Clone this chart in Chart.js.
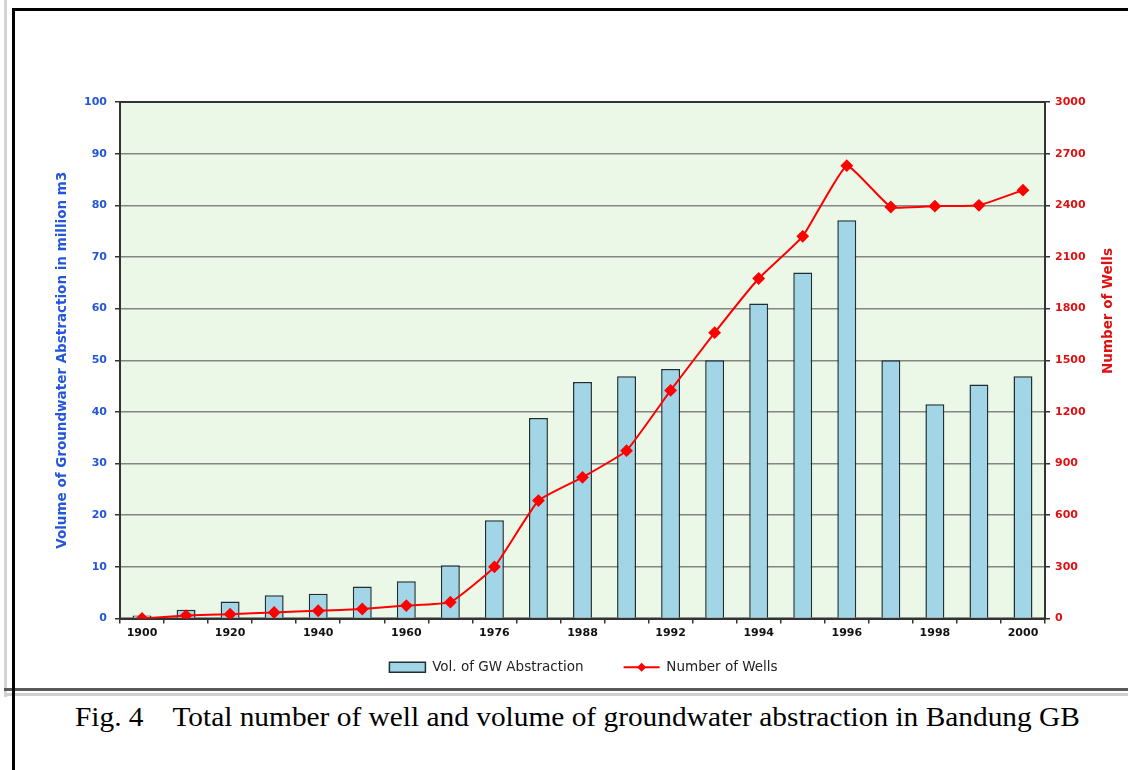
<!DOCTYPE html>
<html>
<head>
<meta charset="utf-8">
<script src="https://cdn.jsdelivr.net/npm/chart.js@4.4.1/dist/chart.umd.min.js"></script>
<style>
  html, body { margin: 0; padding: 0; background: #fff; }
  #page { position: relative; width: 1128px; height: 770px; overflow: hidden; }
  .line { position: absolute; }
  #chartBox { position: absolute; left: 15px; top: 12px; width: 1137px; height: 676px; }
  #caption {
    position: absolute; left: 75px; top: 701px; white-space: pre;
    font-family: "Liberation Serif", "Times New Roman", serif; font-size: 28px;
    color: #000; transform-origin: left top;
  }
</style>
</head>
<body>
<div id="page">
  <!-- outer gray frame -->
  <div class="line" style="left:4px;top:0;width:3px;height:697px;background:#d4d4d4"></div>
  <div class="line" style="left:4px;top:688px;width:1124px;height:3px;background:#5a5a5a"></div>
  <div class="line" style="left:4px;top:693px;width:1124px;height:3px;background:#d0d0d0"></div>
  <!-- black frame -->
  <div class="line" style="left:12px;top:8px;width:1116px;height:3px;background:#000"></div>
  <div class="line" style="left:12px;top:8px;width:3px;height:762px;background:#000"></div>

  <div id="chartBox"><canvas id="gwChart" width="1137" height="676"></canvas></div>
  <div id="caption">Fig. 4    Total number of well and volume of groundwater abstraction in Bandung GB</div>
</div>

<script>
// categories (only every other one is labelled on the axis)
const years = ['1900', '1910', '1920', '1930', '1940', '1950', '1960', '1970', '1976', '1980', '1988',
  '1990', '1992', '1993', '1994', '1995', '1996', '1997', '1998', '1999', '2000'];

// volume of groundwater abstraction, million m3
const volume = [0.6, 1.7, 3.3, 4.5, 4.8, 6.2, 7.2, 10.3, 19, 38.8, 45.8,
  46.9, 48.3, 50, 61, 67, 77.1, 50, 41.5, 45.3, 46.9];

// number of wells
const wells = [0, 17, 25, 35, 45, 55, 75, 95, 300, 685, 820,
  975, 1325, 1660, 1975, 2220, 2630, 2390, 2395, 2400, 2488];

const volTicks = [0, 10, 20, 30, 40, 50, 60, 70, 80, 90, 100];
const wellTicks = [0, 300, 600, 900, 1200, 1500, 1800, 2100, 2400, 2700, 3000];

const tickFont = { family: 'DejaVu Sans', size: 11, weight: 'bold' };

// green plot background + frame
const plotFrame = {
  id: 'plotFrame',
  beforeDraw(chart) {
    const a = chart.chartArea, ctx = chart.ctx;
    ctx.save();
    ctx.fillStyle = '#ebf7e7';
    ctx.fillRect(a.left, a.top, a.right - a.left, a.bottom - a.top);
    ctx.restore();
  },
  beforeDatasetsDraw(chart) {
    const a = chart.chartArea, ctx = chart.ctx;
    ctx.save();
    ctx.strokeStyle = '#333';
    ctx.lineWidth = 2;
    ctx.strokeRect(a.left, a.top, a.right - a.left, a.bottom - a.top);
    ctx.restore();
  },
  afterDraw(chart) {
    const ctx = chart.ctx;
    // right axis title, reading bottom to top
    ctx.save();
    ctx.translate(1093, 299);
    ctx.rotate(-Math.PI / 2);
    ctx.fillStyle = '#e01010';
    ctx.font = 'bold 13.5px "DejaVu Sans"';
    ctx.textAlign = 'center';
    ctx.textBaseline = 'middle';
    ctx.fillText('Number of Wells', 0, 0);
    ctx.restore();
    // diamond on the line legend item
    const hb = chart.legend.legendHitBoxes[1];
    if (hb) {
      const cx = hb.left + 18, cy = hb.top + hb.height / 2, r = 4.5;
      ctx.save();
      ctx.fillStyle = '#ff0000';
      ctx.beginPath();
      ctx.moveTo(cx, cy - r); ctx.lineTo(cx + r, cy); ctx.lineTo(cx, cy + r); ctx.lineTo(cx - r, cy);
      ctx.closePath();
      ctx.fill();
      ctx.restore();
    }
  }
};

const ctx = document.getElementById('gwChart').getContext('2d');
new Chart(ctx, {
  data: {
    labels: years,
    datasets: [
      {
        type: 'line',
        label: 'Number of Wells',
        data: wells,
        yAxisID: 'y1',
        borderColor: '#ff0000',
        backgroundColor: '#ff0000',
        borderWidth: 2,
        tension: 0.12,
        pointStyle: 'rectRot',
        pointRadius: 5,
        pointBackgroundColor: '#ff0000',
        pointBorderColor: '#ff0000',
        order: 0
      },
      {
        type: 'bar',
        label: 'Vol. of GW Abstraction',
        data: volume,
        yAxisID: 'y',
        backgroundColor: '#a2d6e7',
        borderColor: '#1f2f36',
        borderWidth: 1.5,
        barPercentage: 0.43,
        categoryPercentage: 1,
        order: 1
      }
    ]
  },
  options: {
    responsive: false,
    animation: false,
    layout: { padding: { top: 90, left: 0, right: 0, bottom: 4 } },
    plugins: {
      tooltip: { enabled: false },
      legend: {
        position: 'bottom',
        reverse: true,
        labels: {
          usePointStyle: true,
          pointStyleWidth: 36,
          boxHeight: 10,
          padding: 10,
          color: '#222',
          font: { family: 'DejaVu Sans', size: 13.5 },
          generateLabels(chart) {
            const items = Chart.defaults.plugins.legend.labels.generateLabels(chart);
            items.forEach(it => {
              it.pointStyle = it.datasetIndex === 1 ? 'rect' : 'line';
              if (it.datasetIndex === 1) {
                it.lineWidth = 1.5;
                it.text = it.text + '       ';
              }
            });
            return items;
          }
        }
      }
    },
    scales: {
      x: {
        grid: { offset: true, drawOnChartArea: false, drawTicks: true, tickLength: 5, color: '#333', lineWidth: 1.5 },
        border: { color: '#333', width: 2 },
        ticks: {
          autoSkip: false,
          maxRotation: 0,
          padding: 3,
          color: '#111',
          font: tickFont,
          callback(val, i) { return i % 2 === 0 ? this.getLabelForValue(val) : ''; }
        },
        afterFit(scale) { scale.height = 32; }
      },
      y: {
        position: 'left',
        min: 0,
        max: 100,
        afterBuildTicks(scale) { scale.ticks = volTicks.map(v => ({ value: v })); },
        grid: { color: '#858585', lineWidth: 1.5, tickLength: 5, tickColor: '#333' },
        border: { color: '#333', width: 2 },
        ticks: { color: '#2356dc', font: tickFont, padding: 8 },
        title: {
          display: true,
          text: 'Volume of Groundwater Abstraction in million m3',
          color: '#2356dc',
          font: { family: 'DejaVu Sans', size: 13.5, weight: 'bold' },
          padding: { top: 39, bottom: 0 }
        },
        afterFit(scale) { scale.width = 105; }
      },
      y1: {
        position: 'right',
        min: 0,
        max: 3000,
        afterBuildTicks(scale) { scale.ticks = wellTicks.map(v => ({ value: v })); },
        grid: { drawOnChartArea: false, tickLength: 5, color: '#333', lineWidth: 1.5 },
        border: { color: '#333', width: 2 },
        ticks: { color: '#e01010', font: tickFont, padding: 5, callback: v => String(v) },
        afterFit(scale) { scale.width = 107; }
      }
    }
  },
  plugins: [plotFrame]
});

// fit caption to the width it has in the figure
const cap = document.getElementById('caption');
const w = cap.getBoundingClientRect().width;
cap.style.transform = 'scaleX(' + (1005 / w).toFixed(3) + ')';
</script>
</body>
</html>
